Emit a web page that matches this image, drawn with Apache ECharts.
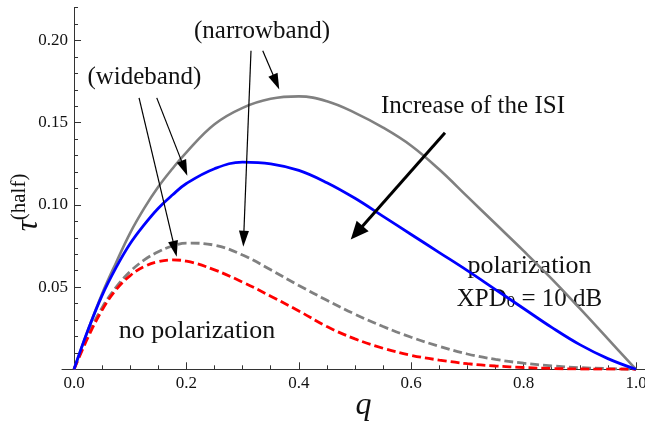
<!DOCTYPE html>
<html>
<head>
<meta charset="utf-8">
<script src="https://cdn.jsdelivr.net/npm/echarts@6/dist/echarts.min.js"></script>
<style>html,body{margin:0;padding:0;background:#fff}#c{width:645px;height:426px}</style>
</head>
<body>
<div id="c"></div>
<script>
// ---- data ----
const q = [0, 0.025, 0.05, 0.075, 0.1, 0.125, 0.15, 0.175, 0.2, 0.25, 0.3, 0.35, 0.4, 0.45, 0.5, 0.55, 0.6, 0.65, 0.7, 0.75, 0.8, 0.85, 0.9, 0.95, 1.0];
const polNarrow = [0, 0.024, 0.046, 0.065, 0.083, 0.098, 0.111, 0.122, 0.132, 0.149, 0.159, 0.1645, 0.166, 0.163, 0.156, 0.147, 0.136, 0.1215, 0.105, 0.0885, 0.072, 0.055, 0.037, 0.0185, 0];
const polWide = [0, 0.024, 0.045, 0.062, 0.0765, 0.088, 0.098, 0.106, 0.113, 0.122, 0.126, 0.125, 0.121, 0.1135, 0.104, 0.093, 0.082, 0.071, 0.060, 0.0485, 0.037, 0.0255, 0.015, 0.0065, 0];
const noPolNarrow = [0, 0.021, 0.0375, 0.050, 0.0595, 0.0665, 0.0715, 0.075, 0.0768, 0.0755, 0.0695, 0.0605, 0.051, 0.042, 0.0335, 0.026, 0.0195, 0.014, 0.0093, 0.006, 0.0037, 0.0021, 0.001, 0.0004, 0];
const noPolWide = [0, 0.0195, 0.036, 0.0485, 0.057, 0.0625, 0.0655, 0.0665, 0.0658, 0.0605, 0.053, 0.0445, 0.0355, 0.026, 0.0185, 0.0128, 0.0085, 0.0056, 0.0034, 0.002, 0.0011, 0.0005, 0.0002, 0.0001, 0];

const xMajorTicks = [0, 0.2, 0.4, 0.6, 0.8, 1.0];
const xMinorTicks = [0.05, 0.1, 0.15, 0.25, 0.3, 0.35, 0.45, 0.5, 0.55, 0.65, 0.7, 0.75, 0.85, 0.9, 0.95];
const yMajorTicks = [0.05, 0.10, 0.15, 0.20];
const yMinorTicks = [0.01, 0.02, 0.03, 0.04, 0.06, 0.07, 0.08, 0.09, 0.11, 0.12, 0.13, 0.14, 0.16, 0.17, 0.18, 0.19, 0.21, 0.22];

// arrows in data units: [fromQ, fromV, toQ, toV]
const arrowsThin = [
  [0.1157, 0.1651, 0.1794, 0.0732],
  [0.1472, 0.1651, 0.1964, 0.1222],
  [0.3149, 0.1937, 0.3018, 0.0794],
  [0.3358, 0.1937, 0.3596, 0.1747]
];
const arrowThick = [0.6601, 0.1439, 0.503, 0.0831];

const pair = vals => q.map((x, i) => [x, vals[i]]);

const SERIF = 'Liberation Serif';
const AX = '#333';
const TXT = '#111';

const chart = echarts.init(document.getElementById('c'), null, {renderer: 'canvas'});

const markData = arrowsThin.map(a => [
  {coord: [a[0], a[1]], symbol: 'none'},
  {coord: [a[2], a[3]], symbol: 'triangle', symbolSize: [10, 16]}
]);
markData.push([
  {coord: [arrowThick[0], arrowThick[1]], symbol: 'none', lineStyle: {width: 3}},
  {coord: [arrowThick[2], arrowThick[3]], symbol: 'triangle', symbolSize: [16, 18], lineStyle: {width: 3}}
]);

const xCommon = {type: 'value', min: -0.0214, max: 1.016, splitLine: {show: false}, position: 'bottom'};
const yCommon = {type: 'value', min: 0, max: 0.22, splitLine: {show: false}, position: 'left'};

chart.setOption({
  animation: false,
  backgroundColor: '#fff',
  grid: {left: 62, right: 0, top: 7.6, bottom: 56.7, containLabel: false, outerBoundsMode: 'none'},
  xAxis: [
    Object.assign({}, xCommon, {
      name: 'q', nameLocation: 'middle', nameGap: 20, nameMoveOverlap: false,
      nameTextStyle: {fontFamily: SERIF, fontStyle: 'italic', fontSize: 32, color: TXT, padding: [0, 0, 0, 20]},
      axisLine: {show: true, onZero: true, lineStyle: {color: AX, width: 1}},
      axisTick: {show: true, inside: true, length: 7, customValues: xMajorTicks, lineStyle: {color: AX, width: 1}},
      axisLabel: {show: true, customValues: xMajorTicks, margin: 6, fontFamily: SERIF, fontSize: 17, color: TXT,
        formatter: v => v.toFixed(1)}
    }),
    Object.assign({}, xCommon, {
      axisLine: {show: false, onZero: false},
      axisTick: {show: true, inside: true, length: 4, customValues: xMinorTicks, lineStyle: {color: AX, width: 1}},
      axisLabel: {show: false}
    })
  ],
  yAxis: [
    Object.assign({}, yCommon, {
      name: '{t|τ}{s|(half)}', nameLocation: 'middle', nameRotate: 90, nameGap: 18, nameMoveOverlap: false,
      nameTextStyle: {
        padding: [0, 28, 0, 0], color: TXT,
        rich: {
          t: {fontFamily: SERIF, fontStyle: 'italic', fontSize: 31, lineHeight: 35, verticalAlign: 'bottom', color: TXT},
          s: {fontFamily: SERIF, fontSize: 21, lineHeight: 22, verticalAlign: 'top', color: TXT}
        }
      },
      axisLine: {show: true, onZero: true, onZeroAxisIndex: 0, lineStyle: {color: AX, width: 1}},
      axisTick: {show: true, inside: true, length: 7, customValues: yMajorTicks, lineStyle: {color: AX, width: 1}},
      axisLabel: {show: true, customValues: yMajorTicks, margin: -6, fontFamily: SERIF, fontSize: 17, color: TXT,
        formatter: v => v.toFixed(2)}
    }),
    Object.assign({}, yCommon, {
      axisLine: {show: false, onZero: true, onZeroAxisIndex: 0},
      axisTick: {show: true, inside: true, length: 4, customValues: yMinorTicks, lineStyle: {color: AX, width: 1}},
      axisLabel: {show: false}
    })
  ],
  series: [
    {name: 'polarization narrowband', type: 'line', data: pair(polNarrow), smooth: 0.4, showSymbol: false,
      lineStyle: {color: '#808080', width: 2.6}, silent: true},
    {name: 'no polarization narrowband', type: 'line', data: pair(noPolNarrow), smooth: 0.4, showSymbol: false,
      lineStyle: {color: '#808080', width: 2.8, type: [9, 4]}, silent: true},
    {name: 'no polarization wideband', type: 'line', data: pair(noPolWide), smooth: 0.4, showSymbol: false,
      lineStyle: {color: '#ff0000', width: 2.8, type: [9, 4]}, silent: true},
    {name: 'polarization wideband', type: 'line', data: pair(polWide), smooth: 0.4, showSymbol: false,
      lineStyle: {color: '#0000ff', width: 2.8}, silent: true},
    {name: 'annotations', type: 'line', data: [], silent: true,
      markLine: {silent: true, animation: false, label: {show: false}, emphasis: {disabled: true},
        lineStyle: {type: 'solid', color: '#000', width: 1.2},
        itemStyle: {color: '#000'},
        data: markData}}
  ],
  graphic: [
    {type: 'text', x: 262, y: 31.5, silent: true, style: {text: '(narrowband)', fontFamily: SERIF, fontSize: 25, fill: TXT, align: 'center', verticalAlign: 'middle'}},
    {type: 'text', x: 144.3, y: 77.5, silent: true, style: {text: '(wideband)', fontFamily: SERIF, fontSize: 25, fill: TXT, align: 'center', verticalAlign: 'middle'}},
    {type: 'text', x: 473, y: 106.5, silent: true, style: {text: 'Increase of the ISI', fontFamily: SERIF, fontSize: 25, fill: TXT, align: 'center', verticalAlign: 'middle'}},
    {type: 'text', x: 529.5, y: 266.5, silent: true, style: {text: 'polarization', fontFamily: SERIF, fontSize: 26, fill: TXT, align: 'center', verticalAlign: 'middle'}},
    {type: 'text', x: 529.5, y: 296.5, silent: true, style: {
      text: '{a|XPD}{b|0}{a| = 10 dB}', align: 'center', verticalAlign: 'middle',
      rich: {
        a: {fontFamily: SERIF, fontSize: 25, lineHeight: 30, verticalAlign: 'bottom', fill: TXT},
        b: {fontFamily: SERIF, fontSize: 17, lineHeight: 17, verticalAlign: 'bottom', fill: TXT}
      }}},
    {type: 'text', x: 197, y: 331.5, silent: true, style: {text: 'no polarization', fontFamily: SERIF, fontSize: 26, fill: TXT, align: 'center', verticalAlign: 'middle'}}
  ]
});
</script>
</body>
</html>
